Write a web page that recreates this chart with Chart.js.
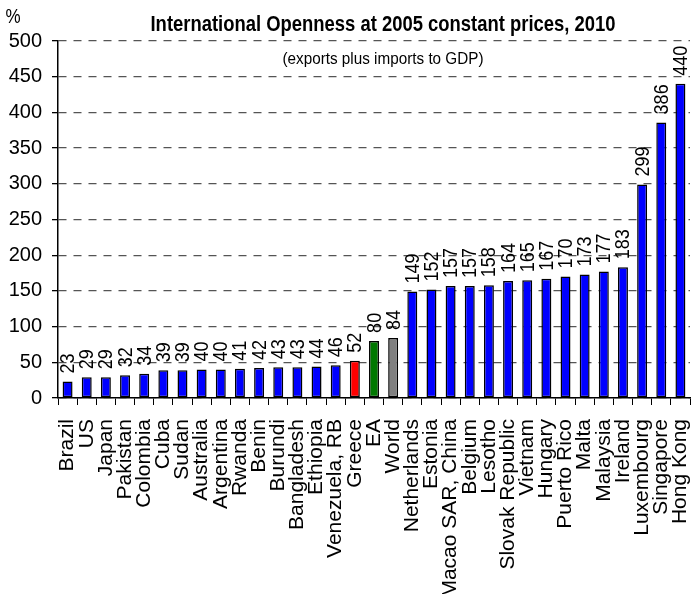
<!DOCTYPE html>
<html>
<head>
<meta charset="utf-8">
<script src="https://cdn.jsdelivr.net/npm/chart.js@4.4.1/dist/chart.umd.min.js"></script>
<style>
  html, body { margin: 0; padding: 0; background: #fff; }
  #wrap { width: 694px; height: 594px; }
</style>
</head>
<body>
<div id="wrap"><canvas id="openness" width="694" height="594"></canvas></div>
<script>
// chart data
const countries = ['Brazil', 'US', 'Japan', 'Pakistan', 'Colombia', 'Cuba', 'Sudan', 'Australia', 'Argentina',
  'Rwanda', 'Benin', 'Burundi', 'Bangladesh', 'Ethiopia', 'Venezuela, RB', 'Greece', 'EA', 'World',
  'Netherlands', 'Estonia', 'Macao SAR, China', 'Belgium', 'Lesotho', 'Slovak Republic', 'Vietnam',
  'Hungary', 'Puerto Rico', 'Malta', 'Malaysia', 'Ireland', 'Luxembourg', 'Singapore', 'Hong Kong'];
const openness = [23, 29, 29, 32, 34, 39, 39, 40, 40, 41, 42, 43, 43, 44, 46, 52, 80, 84,
  149, 152, 157, 157, 158, 164, 165, 167, 170, 173, 177, 183, 299, 386, 440];
const highlight = { 'Greece': '#ff0000', 'EA': '#007800', 'World': '#808080' };
const yTicks = [0, 50, 100, 150, 200, 250, 300, 350, 400, 450, 500];

const sans = "'Liberation Sans', Arial, sans-serif";

const barColors = countries.map(c => highlight[c] || '#0000ff');

// draws text squeezed to a given width (the original uses a condensed face)
function condensedText(ctx, text, x, y, squeeze) {
  ctx.save();
  ctx.translate(x, y);
  ctx.scale(squeeze, 1);
  ctx.fillText(text, 0, 0);
  ctx.restore();
}

// value labels above bars, rotated
const valueLabels = {
  id: 'valueLabels',
  afterDatasetsDraw(chart) {
    const ctx = chart.ctx;
    const meta = chart.getDatasetMeta(0);
    ctx.save();
    ctx.font = '20px ' + sans;
    ctx.fillStyle = '#000';
    ctx.textAlign = 'left';
    ctx.textBaseline = 'middle';
    meta.data.forEach((bar, i) => {
      ctx.save();
      ctx.translate(bar.x + 1, bar.y - 8);
      ctx.rotate(-Math.PI / 2);
      ctx.scale(0.9, 1);
      ctx.fillText(String(openness[i]), 0, 0);
      ctx.restore();
    });
    ctx.restore();
  }
};

// title, subtitle and unit
const headings = {
  id: 'headings',
  afterDraw(chart) {
    const ctx = chart.ctx;
    ctx.save();
    ctx.fillStyle = '#000';
    ctx.textBaseline = 'alphabetic';
    ctx.textAlign = 'center';
    const title = 'International Openness at 2005 constant prices, 2010';
    ctx.font = 'bold 22px ' + sans;
    condensedText(ctx, title, 383, 31, 465 / ctx.measureText(title).width);
    const sub = '(exports plus imports to GDP)';
    ctx.font = '17px ' + sans;
    condensedText(ctx, sub, 383, 64, 201 / ctx.measureText(sub).width);
    ctx.font = '20px ' + sans;
    condensedText(ctx, '%', 13, 23, 0.85);
    ctx.restore();
  }
};

new Chart(document.getElementById('openness'), {
  type: 'bar',
  data: {
    labels: countries,
    datasets: [{
      data: openness,
      backgroundColor: barColors,
      borderColor: '#000',
      borderWidth: 1.5,
      borderSkipped: false,
      barPercentage: 0.52,
      categoryPercentage: 1
    }]
  },
  options: {
    responsive: false,
    animation: false,
    layout: { padding: { top: 41, right: 4, left: 0, bottom: 0 } },
    plugins: {
      legend: { display: false },
      tooltip: { enabled: false },
      title: { display: false }
    },
    scales: {
      x: {
        offset: true,
        afterFit: scale => {
          scale.height = 196;
          scale.paddingLeft = 0;
          scale.paddingRight = 0;
        },
        grid: { display: true, drawOnChartArea: false, drawTicks: true, tickLength: 7, color: '#000', offset: true },
        border: { display: true, color: '#000', width: 1.5 },
        ticks: {
          autoSkip: false,
          maxRotation: 90,
          minRotation: 90,
          padding: 14,
          color: '#000',
          font: { family: sans, size: 21 }
        }
      },
      y: {
        min: 0,
        max: 500,
        afterFit: scale => {
          scale.width = 58;
          scale.paddingTop = 0;
          scale.paddingBottom = 0;
        },
        afterBuildTicks: scale => { scale.ticks = yTicks.map(v => ({ value: v })); },
        grid: {
          color: '#555',
          lineWidth: 1.3,
          tickColor: '#000',
          tickLength: 6,
          tickBorderDash: []
        },
        border: { display: true, color: '#000', width: 1.5, dash: [8, 7] },
        ticks: {
          padding: 10,
          color: '#000',
          font: { family: sans, size: 20 }
        }
      }
    }
  },
  plugins: [valueLabels, headings]
});
</script>
</body>
</html>
